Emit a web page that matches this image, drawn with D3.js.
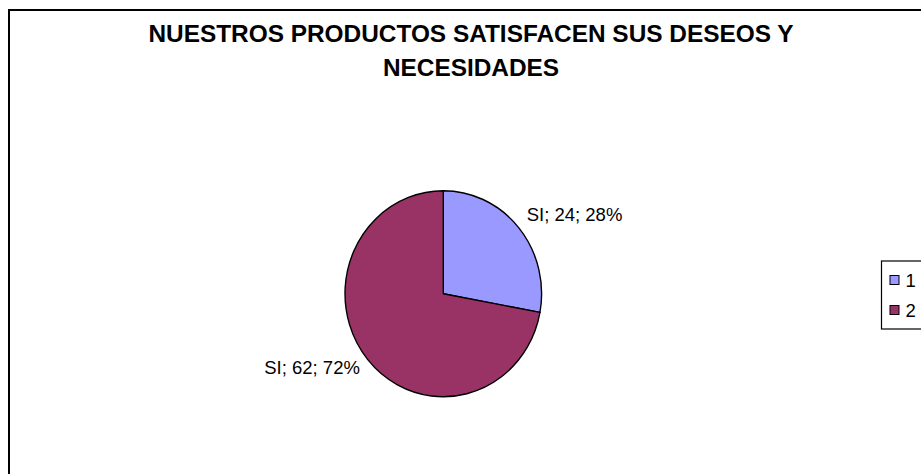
<!DOCTYPE html>
<html>
<head>
<meta charset="utf-8">
<script src="https://cdn.jsdelivr.net/npm/d3@7"></script>
<style>
  html, body { margin: 0; padding: 0; background: #ffffff; }
  svg { display: block; }
  text { font-family: Arial, "Liberation Sans", sans-serif; fill: #000; }
</style>
</head>
<body>
<script>
// Survey result: "our products satisfy your wishes and needs"
const categories = ["1", "2"];
const labelNames = ["SI", "SI"];
const values = [24, 62];
const colors = ["#9999FF", "#993366"];
const titleLines = ["NUESTROS PRODUCTOS SATISFACEN SUS DESEOS Y", "NECESIDADES"];

const W = 921, H = 474;
const svg = d3.select("body").append("svg")
  .attr("width", W).attr("height", H);

svg.append("rect").attr("width", W).attr("height", H).attr("fill", "#fff");

// chart frame (continues past the right and bottom edges)
svg.append("rect")
  .attr("x", 9).attr("y", 10)
  .attr("width", W + 40).attr("height", H + 40)
  .attr("fill", "none").attr("stroke", "#000").attr("stroke-width", 2);

// title
const title = svg.append("text")
  .attr("text-anchor", "middle")
  .attr("font-weight", "bold")
  .attr("font-size", 24.4);
titleLines.forEach((t, i) => {
  title.append("tspan")
    .attr("x", 471)
    .attr("y", 42.3 + i * 33.4)
    .text(t);
});

// pie
const cx = 443.3, cy = 293.7, rx = 98.3, ry = 103;
const total = d3.sum(values);
const pie = d3.pie().sort(null).value(d => d)(values);
const arc = d3.arc().innerRadius(0).outerRadius(rx);

const pieG = svg.append("g")
  .attr("transform", `translate(${cx},${cy}) scale(1,${ry / rx})`);

pieG.selectAll("path")
  .data(pie)
  .join("path")
  .attr("d", arc)
  .attr("fill", (d, i) => colors[i])
  .attr("stroke", "#000")
  .attr("stroke-width", 1.4)
  .attr("stroke-linejoin", "round")
  .attr("vector-effect", "non-scaling-stroke");

// data labels just outside each slice
const labelR = 108.5;
svg.append("g").selectAll("text")
  .data(pie)
  .join("text")
  .attr("font-size", 18.5)
  .each(function (d, i) {
    const a = (d.startAngle + d.endAngle) / 2;
    const x = cx + labelR * Math.sin(a);
    const y = cy - labelR * Math.cos(a) * (ry / rx);
    const right = Math.sin(a) >= 0;
    d3.select(this)
      .attr("x", x)
      .attr("y", y + 4 - 6 * Math.cos(a))
      .attr("text-anchor", right ? "start" : "end")
      .text(`${labelNames[i]}; ${values[i]}; ${Math.round(values[i] / total * 100)}%`);
  });

// legend
const legX = 881.5, legY = 261, legH = 68;
svg.append("rect")
  .attr("x", legX).attr("y", legY)
  .attr("width", 80).attr("height", legH)
  .attr("fill", "#fff").attr("stroke", "#000").attr("stroke-width", 1.2);

const rowY = d3.scalePoint().domain(categories).range([legY + 19, legY + legH - 19]);

const items = svg.append("g").selectAll("g")
  .data(categories)
  .join("g")
  .attr("transform", d => `translate(0,${rowY(d)})`);

items.append("rect")
  .attr("x", 890).attr("y", -4.5)
  .attr("width", 9).attr("height", 9)
  .attr("fill", (d, i) => colors[i])
  .attr("stroke", "#000").attr("stroke-width", 1);

items.append("text")
  .attr("x", 905.5).attr("y", 6.5)
  .attr("font-size", 18.5)
  .text(d => d);
</script>
</body>
</html>
